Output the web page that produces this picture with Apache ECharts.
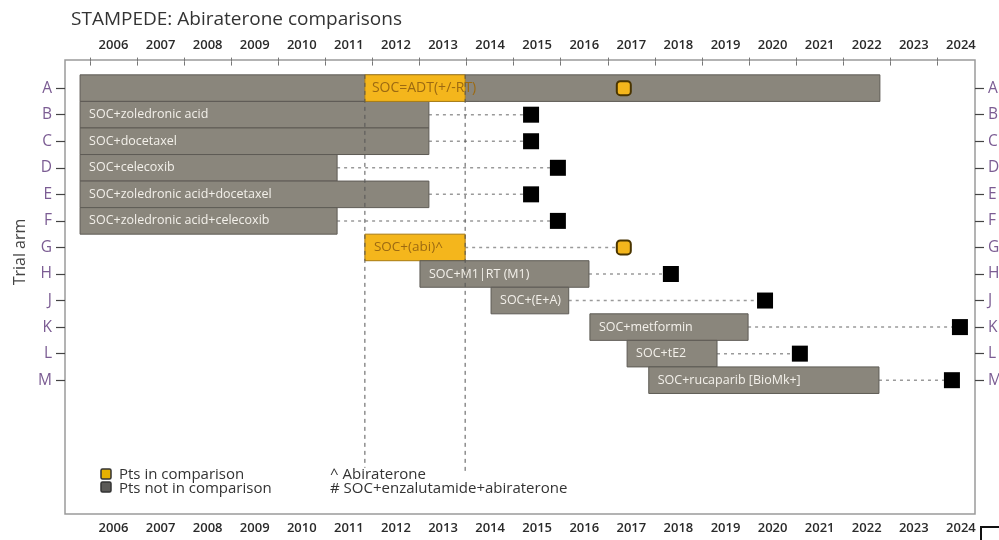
<!DOCTYPE html>
<html>
<head>
<meta charset="utf-8">
<script src="https://cdn.jsdelivr.net/npm/echarts@6/dist/echarts.min.js"></script>
<style>
  html, body { margin: 0; padding: 0; background: #fff; }
  #chart { width: 999px; height: 540px; }
</style>
</head>
<body>
<div id="chart"></div>
<script>
// Trial arms (rows, top to bottom)
const armLetters = ['A', 'B', 'C', 'D', 'E', 'F', 'G', 'H', 'J', 'K', 'L', 'M'];
const armNames = ['', 'SOC+zoledronic acid', 'SOC+docetaxel', 'SOC+celecoxib',
  'SOC+zoledronic acid+docetaxel', 'SOC+zoledronic acid+celecoxib', 'SOC+(abi)^',
  'SOC+M1|RT (M1)', 'SOC+(E+A)', 'SOC+metformin', 'SOC+tE2', 'SOC+rucaparib [BioMk+]'];
// Recruitment periods (decimal years)
const recruitStart = [2005.79, 2005.79, 2005.79, 2005.79, 2005.79, 2005.79, 2011.84, 2013.01, 2014.52, 2016.62, 2017.41, 2017.87];
const recruitEnd   = [2022.78, 2013.20, 2013.20, 2011.25, 2013.20, 2011.25, 2013.97, 2016.60, 2016.17, 2019.98, 2019.32, 2022.76];
// Expected result (decimal year) for each arm
const resultYear = [2017.34, 2015.37, 2015.37, 2015.94, 2015.37, 2015.94, 2017.34, 2018.34, 2020.34, 2024.48, 2021.08, 2024.31];
// 1 = patients in the abiraterone comparison
const inComparison = [1, 0, 0, 0, 0, 0, 1, 0, 0, 0, 0, 0];
// Abiraterone comparison window
const comparisonWindow = [2011.84, 2013.97];
const controlLabel = 'SOC=ADT(+/-RT)';
// Axis ticks
const yearTicks = [2006, 2007, 2008, 2009, 2010, 2011, 2012, 2013, 2014, 2015, 2016, 2017, 2018, 2019, 2020, 2021, 2022, 2023, 2024];
const legendItems = ['Pts in comparison', 'Pts not in comparison'];
const footnotes = ['^ Abiraterone', '# SOC+enzalutamide+abiraterone'];

const GRAY = '#8a867c';
const GRAY_EDGE = '#5e5b55';
const YELLOW = '#f4b61c';
const YELLOW_EDGE = '#a87a10';
const PURPLE = '#7b5c93';
const FONT = '"Open Sans", Lato, sans-serif';

const rows = armLetters.map((_, i) => i + 1);
const yearMids = yearTicks.map(y => y + 0.5);

const barData = armLetters.map((_, i) => [rows[i], recruitStart[i], recruitEnd[i], armNames[i], inComparison[i] && i > 0 ? 1 : 0]);
const connectorData = armLetters.map((_, i) => [rows[i], recruitEnd[i], resultYear[i]]).filter((d, i) => i > 0);
const inPts = [], outPts = [];
armLetters.forEach((_, i) => (inComparison[i] ? inPts : outPts).push([resultYear[i], rows[i]]));

function xAxisCfg(pos) {
  return {
    type: 'value', position: pos, min: 2005.47, max: 2024.8,
    axisLine: { show: false }, splitLine: { show: false },
    axisTick: { show: true, customValues: yearTicks, length: 4, lineStyle: { color: '#777', width: 1 } },
    axisLabel: { customValues: yearMids, formatter: v => String(Math.floor(v)), margin: 8,
      color: '#2a2a2a', fontSize: 13, fontWeight: 600, fontFamily: FONT }
  };
}
function yAxisCfg(pos) {
  return {
    type: 'value', position: pos, inverse: true, min: -0.06, max: 17.04,
    axisLine: { show: false }, splitLine: { show: false },
    axisTick: { show: true, customValues: rows, length: 9, lineStyle: { color: '#444', width: 1.2 } },
    axisLabel: { customValues: rows, formatter: v => armLetters[Math.round(v) - 1] || '', margin: 13,
      color: PURPLE, fontSize: 15.5, fontFamily: FONT }
  };
}

const chart = echarts.init(document.getElementById('chart'));
chart.setOption({
  animation: false,
  backgroundColor: '#fff',
  title: { text: 'STAMPEDE: Abiraterone comparisons', left: 66, top: 5,
    textStyle: { fontSize: 19, fontWeight: 'normal', color: '#333', fontFamily: FONT } },
  grid: { left: 65, right: 24, top: 60, bottom: 26, containLabel: false, outerBoundsMode: 'none',
    show: true, borderColor: '#9a9a9a', borderWidth: 1.5, backgroundColor: '#fff' },
  xAxis: [xAxisCfg('top'), xAxisCfg('bottom')],
  yAxis: [yAxisCfg('left'), yAxisCfg('right')],
  series: [
    { // dashed connectors from end of recruitment to result
      type: 'custom', xAxisIndex: 0, yAxisIndex: 0, z: 1,
      data: connectorData,
      renderItem(params, api) {
        const a = api.coord([api.value(1), api.value(0)]);
        const b = api.coord([api.value(2), api.value(0)]);
        return { type: 'line', shape: { x1: a[0], y1: a[1], x2: b[0], y2: b[1] },
          style: { stroke: '#9a9a9a', lineWidth: 1.5, lineDash: [3, 4] } };
      }
    },
    { // recruitment bars
      type: 'custom', xAxisIndex: 0, yAxisIndex: 0, z: 2,
      data: barData,
      renderItem(params, api) {
        const row = api.value(0);
        const p0 = api.coord([api.value(1), row]);
        const p1 = api.coord([api.value(2), row]);
        const h = Math.abs(api.size([0, 1])[1]);
        const yellow = api.value(4) === 1;
        const children = [{ type: 'rect',
          shape: { x: p0[0], y: p0[1] - h / 2, width: p1[0] - p0[0], height: h },
          style: { fill: yellow ? YELLOW : GRAY, stroke: yellow ? YELLOW_EDGE : GRAY_EDGE, lineWidth: 1 } }];
        const name = barData[params.dataIndex][3];
        if (name) children.push({ type: 'text', x: p0[0] + 9, y: p0[1],
          style: { text: name, fill: yellow ? '#9c6a12' : '#f3f0ea', fontSize: yellow ? 13.5 : 12.5, fontFamily: FONT, verticalAlign: 'middle' } });
        return { type: 'group', children };
      }
    },
    { // comparison window on the control arm
      type: 'custom', xAxisIndex: 0, yAxisIndex: 0, z: 3,
      data: [[1, comparisonWindow[0], comparisonWindow[1]]],
      renderItem(params, api) {
        const p0 = api.coord([api.value(1), api.value(0)]);
        const p1 = api.coord([api.value(2), api.value(0)]);
        const h = Math.abs(api.size([0, 1])[1]);
        return { type: 'group', children: [
          { type: 'rect', shape: { x: p0[0], y: p0[1] - h / 2, width: p1[0] - p0[0], height: h },
            style: { fill: YELLOW, stroke: YELLOW_EDGE, lineWidth: 0.8 } },
          { type: 'text', x: p0[0] + 7, y: p0[1],
            style: { text: controlLabel, fill: '#9c6a12', fontSize: 14, fontFamily: FONT, verticalAlign: 'middle' } }
        ] };
      }
    },
    { // window boundaries
      type: 'custom', xAxisIndex: 0, yAxisIndex: 0, z: 4,
      data: [[comparisonWindow[0], 0.5, 15.3], [comparisonWindow[1], 0.5, 15.5]],
      renderItem(params, api) {
        const a = api.coord([api.value(0), api.value(1)]);
        const b = api.coord([api.value(0), api.value(2)]);
        return { type: 'line', shape: { x1: a[0], y1: a[1], x2: b[0], y2: b[1] },
          style: { stroke: '#555', lineWidth: 1, lineDash: [4, 4] } };
      }
    },
    { type: 'scatter', xAxisIndex: 0, yAxisIndex: 0, z: 5, symbol: 'roundRect', symbolSize: 14,
      data: inPts, itemStyle: { color: YELLOW, borderColor: '#4a3500', borderWidth: 2, opacity: 1 } },
    { type: 'scatter', xAxisIndex: 0, yAxisIndex: 0, z: 5, symbol: 'rect', symbolSize: 16,
      data: outPts, itemStyle: { color: '#000', borderWidth: 0, opacity: 1 } }
  ],
  graphic: [
    { type: 'text', x: 20, y: 252, rotation: Math.PI / 2,
      style: { text: 'Trial arm', fontSize: 16, fill: '#444', fontFamily: FONT, align: 'center', verticalAlign: 'middle' } },
    { type: 'rect', shape: { x: 101, y: 469, width: 10, height: 10, r: 1.5 },
      style: { fill: '#e6b100', stroke: '#333', lineWidth: 1.5 } },
    { type: 'rect', shape: { x: 101, y: 482, width: 10, height: 10, r: 1.5 },
      style: { fill: '#5b5a57', stroke: '#333', lineWidth: 1.5 } },
    { type: 'text', x: 119, y: 475, style: { text: legendItems[0], fontSize: 15, fill: '#333', fontFamily: FONT, verticalAlign: 'middle' } },
    { type: 'text', x: 119, y: 489, style: { text: legendItems[1], fontSize: 15, fill: '#333', fontFamily: FONT, verticalAlign: 'middle' } },
    { type: 'text', x: 330, y: 475, style: { text: footnotes[0], fontSize: 15, fill: '#333', fontFamily: FONT, verticalAlign: 'middle' } },
    { type: 'text', x: 330, y: 489, style: { text: footnotes[1], fontSize: 15, fill: '#333', fontFamily: FONT, verticalAlign: 'middle' } },
    { type: 'polyline', shape: { points: [[981, 540], [981, 527], [999, 527]] },
      style: { stroke: '#111', lineWidth: 2, fill: null } }
  ]
});
</script>
</body>
</html>
